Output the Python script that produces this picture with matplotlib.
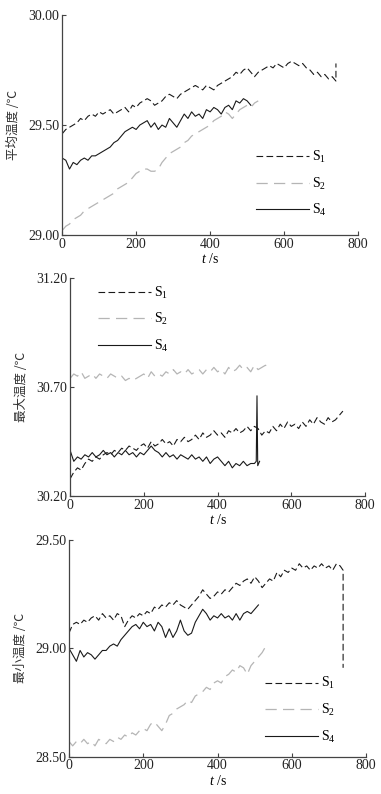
import matplotlib
matplotlib.use('Agg')
import matplotlib.pyplot as plt

plt.rcParams['font.family'] = ['Liberation Serif', 'Noto Sans CJK SC']
plt.rcParams['mathtext.fontset'] = 'custom'
plt.rcParams['mathtext.rm'] = 'Liberation Serif'
plt.rcParams['mathtext.it'] = 'Liberation Serif:italic'

# ---- data (read off the reference, sampled every 10 s) ----
# panel 1: mean temperature
t_avg_s1 = list(range(0, 750, 10)) + [740]
avg_s1 = [29.46, 29.48, 29.49, 29.50, 29.51, 29.53, 29.52, 29.54, 29.55, 29.54,
          29.56, 29.55, 29.56, 29.57, 29.55, 29.56, 29.57, 29.58, 29.56, 29.59,
          29.58, 29.60, 29.61, 29.62, 29.61, 29.59, 29.60, 29.61, 29.63, 29.64,
          29.63, 29.62, 29.64, 29.65, 29.66, 29.67, 29.68, 29.67, 29.66, 29.68,
          29.67, 29.66, 29.68, 29.69, 29.70, 29.71, 29.72, 29.74, 29.73, 29.75,
          29.76, 29.74, 29.72, 29.74, 29.75, 29.76, 29.77, 29.76, 29.78, 29.77,
          29.76, 29.78, 29.79, 29.78, 29.77, 29.78, 29.76, 29.75, 29.73, 29.74,
          29.72, 29.73, 29.71, 29.72, 29.70, 29.78]
t_avg_s2 = list(range(0, 540, 10))
avg_s2 = [29.02, 29.04, 29.05, 29.07, 29.08, 29.09, 29.11, 29.12, 29.13, 29.14,
          29.15, 29.16, 29.17, 29.18, 29.19, 29.21, 29.22, 29.23, 29.24, 29.26,
          29.28, 29.29, 29.30, 29.30, 29.29, 29.29, 29.30, 29.33, 29.35, 29.37,
          29.38, 29.39, 29.40, 29.42, 29.43, 29.45, 29.46, 29.47, 29.48, 29.49,
          29.50, 29.52, 29.53, 29.54, 29.56, 29.55, 29.53, 29.55, 29.57, 29.58,
          29.59, 29.58, 29.60, 29.61]
t_avg_s4 = list(range(0, 520, 10))
avg_s4 = [29.35, 29.34, 29.30, 29.33, 29.32, 29.34, 29.35, 29.34, 29.36, 29.36,
          29.37, 29.38, 29.39, 29.40, 29.42, 29.43, 29.45, 29.47, 29.48, 29.49,
          29.48, 29.50, 29.51, 29.52, 29.49, 29.51, 29.48, 29.50, 29.49, 29.53,
          29.51, 29.49, 29.52, 29.55, 29.53, 29.56, 29.54, 29.55, 29.53, 29.57,
          29.56, 29.58, 29.57, 29.55, 29.58, 29.59, 29.57, 29.61, 29.60, 29.62,
          29.61, 29.59]

# panel 2: max temperature
t_max_s1 = list(range(0, 750, 10))
max_s1 = [30.28, 30.31, 30.33, 30.32, 30.35, 30.37, 30.36, 30.38, 30.37, 30.39,
          30.40, 30.39, 30.41, 30.40, 30.42, 30.41, 30.43, 30.42, 30.41, 30.43,
          30.44, 30.42, 30.45, 30.43, 30.44, 30.46, 30.44, 30.45, 30.43, 30.46,
          30.45, 30.47, 30.45, 30.46, 30.48, 30.46, 30.49, 30.47, 30.48, 30.50,
          30.48, 30.49, 30.47, 30.50, 30.49, 30.51, 30.49, 30.50, 30.52, 30.50,
          30.52, 30.51, 30.48, 30.50, 30.49, 30.52, 30.50, 30.53, 30.51, 30.54,
          30.52, 30.53, 30.51, 30.54, 30.52, 30.55, 30.53, 30.56, 30.54, 30.53,
          30.56, 30.54, 30.55, 30.57, 30.59]
t_max_s2 = list(range(0, 550, 10))
max_s2 = [30.74, 30.76, 30.75, 30.77, 30.74, 30.75, 30.76, 30.74, 30.76, 30.75,
          30.74, 30.76, 30.75, 30.74, 30.75, 30.73, 30.74, 30.73, 30.74, 30.75,
          30.76, 30.74, 30.77, 30.75, 30.76, 30.75, 30.77, 30.76, 30.78, 30.76,
          30.77, 30.76, 30.78, 30.76, 30.77, 30.78, 30.76, 30.78, 30.77, 30.79,
          30.77, 30.78, 30.76, 30.79, 30.77, 30.78, 30.80, 30.78, 30.79, 30.77,
          30.80, 30.78, 30.79, 30.80, 30.79]
t_max_s4 = list(range(0, 510, 10)) + [505, 507, 509, 514]
max_s4 = [30.41, 30.36, 30.38, 30.37, 30.39, 30.38, 30.40, 30.38, 30.39, 30.41,
          30.39, 30.40, 30.38, 30.40, 30.39, 30.41, 30.39, 30.40, 30.38, 30.40,
          30.39, 30.41, 30.43, 30.41, 30.40, 30.38, 30.40, 30.38, 30.39, 30.37,
          30.39, 30.38, 30.37, 30.39, 30.37, 30.38, 30.36, 30.38, 30.35, 30.37,
          30.38, 30.36, 30.34, 30.36, 30.33, 30.35, 30.34, 30.36, 30.34, 30.35,
          30.35, 30.36, 30.66, 30.34, 30.36]

# panel 3: min temperature
t_min_s1 = list(range(0, 740, 10)) + [738, 738]
min_s1 = [29.07, 29.11, 29.12, 29.11, 29.13, 29.12, 29.14, 29.15, 29.13, 29.16,
          29.14, 29.15, 29.13, 29.16, 29.15, 29.10, 29.13, 29.15, 29.14, 29.16,
          29.15, 29.17, 29.16, 29.19, 29.18, 29.20, 29.19, 29.21, 29.20, 29.22,
          29.20, 29.19, 29.18, 29.20, 29.22, 29.24, 29.27, 29.25, 29.23, 29.24,
          29.26, 29.25, 29.27, 29.26, 29.28, 29.30, 29.29, 29.31, 29.32, 29.30,
          29.33, 29.31, 29.28, 29.30, 29.32, 29.31, 29.35, 29.33, 29.36, 29.35,
          29.37, 29.36, 29.39, 29.37, 29.38, 29.36, 29.38, 29.37, 29.39, 29.37,
          29.38, 29.36, 29.39, 29.38, 29.36, 28.91]
t_min_s2 = list(range(0, 540, 10))
min_s2 = [28.57, 28.55, 28.57, 28.56, 28.58, 28.56, 28.57, 28.55, 28.58, 28.57,
          28.56, 28.58, 28.57, 28.59, 28.58, 28.60, 28.59, 28.61, 28.60, 28.62,
          28.63, 28.62, 28.65, 28.66, 28.64, 28.62, 28.65, 28.69, 28.70, 28.72,
          28.73, 28.74, 28.76, 28.75, 28.78, 28.79, 28.80, 28.82, 28.81, 28.84,
          28.85, 28.84, 28.87, 28.88, 28.90, 28.89, 28.92, 28.91, 28.88, 28.92,
          28.94, 28.96, 28.98, 29.01]
t_min_s4 = list(range(0, 520, 10))
min_s4 = [29.00, 28.97, 28.94, 28.99, 28.96, 28.98, 28.97, 28.95, 28.97, 28.99,
          28.99, 29.01, 29.02, 29.01, 29.04, 29.06, 29.08, 29.10, 29.11, 29.09,
          29.12, 29.10, 29.11, 29.08, 29.12, 29.10, 29.05, 29.09, 29.05, 29.08,
          29.13, 29.08, 29.06, 29.07, 29.12, 29.15, 29.18, 29.16, 29.13, 29.15,
          29.14, 29.16, 29.14, 29.15, 29.13, 29.16, 29.13, 29.16, 29.17, 29.16,
          29.18, 29.20]

labels = ['S$_1$', 'S$_2$', 'S$_4$']
ylabels = ['平均温度 /℃', '最大温度 /℃', '最小温度 /℃']
yticks = [[29.00, 29.50, 30.00], [30.20, 30.70, 31.20], [28.50, 29.00, 29.50]]
xticks = [0, 200, 400, 600, 800]

panels = [
    ((t_avg_s1, avg_s1), (t_avg_s2, avg_s2), (t_avg_s4, avg_s4)),
    ((t_max_s1, max_s1), (t_max_s2, max_s2), (t_max_s4, max_s4)),
    ((t_min_s1, min_s1), (t_min_s2, min_s2), (t_min_s4, min_s4)),
]
boxes = [[0.163, 0.704, 0.777, 0.277],
         [0.184, 0.375, 0.774, 0.275],
         [0.181, 0.047, 0.780, 0.273]]
leg_anchor = [(0.655, 0.39), (0.095, 0.97), (0.66, 0.375)]

styles = [dict(color='#1a1a1a', lw=0.8, ls=(0, (6, 3))),
          dict(color='#b5b5b5', lw=0.9, ls=(0, (9, 5))),
          dict(color='#1a1a1a', lw=0.8, ls='-')]

fig = plt.figure(figsize=(3.81, 7.94), dpi=100)
for i in range(3):
    ax = fig.add_axes(boxes[i])
    for (tt, vv), st, lab in zip(panels[i], styles, labels):
        ax.plot(tt, vv, label=lab, **st)
    ax.set_xlim(0, 800)
    ax.set_ylim(yticks[i][0], yticks[i][-1])
    ax.set_xticks(xticks)
    ax.set_yticks(yticks[i])
    ax.set_yticklabels([f'{v:.2f}' for v in yticks[i]])
    for s in ['top', 'right']:
        ax.spines[s].set_visible(False)
    for s in ['left', 'bottom']:
        ax.spines[s].set_color('#444444')
        ax.spines[s].set_linewidth(0.9)
    ax.tick_params(direction='in', length=3, width=0.8, color='#444444',
                   labelsize=10, pad=2, labelcolor='#222222')
    ax.set_xlabel('$t$ /s', fontsize=10, labelpad=1)
    ax.set_ylabel(ylabels[i], fontsize=9, family=['Noto Sans CJK SC', 'DejaVu Sans'],
                  color='#333333', labelpad=6)
    ax.legend(loc='upper left', bbox_to_anchor=leg_anchor[i], frameon=False,
              fontsize=10, handlelength=3.8, handletextpad=0.2, labelspacing=0.75,
              borderpad=0, borderaxespad=0)

fig.savefig('out.png', dpi=100)
